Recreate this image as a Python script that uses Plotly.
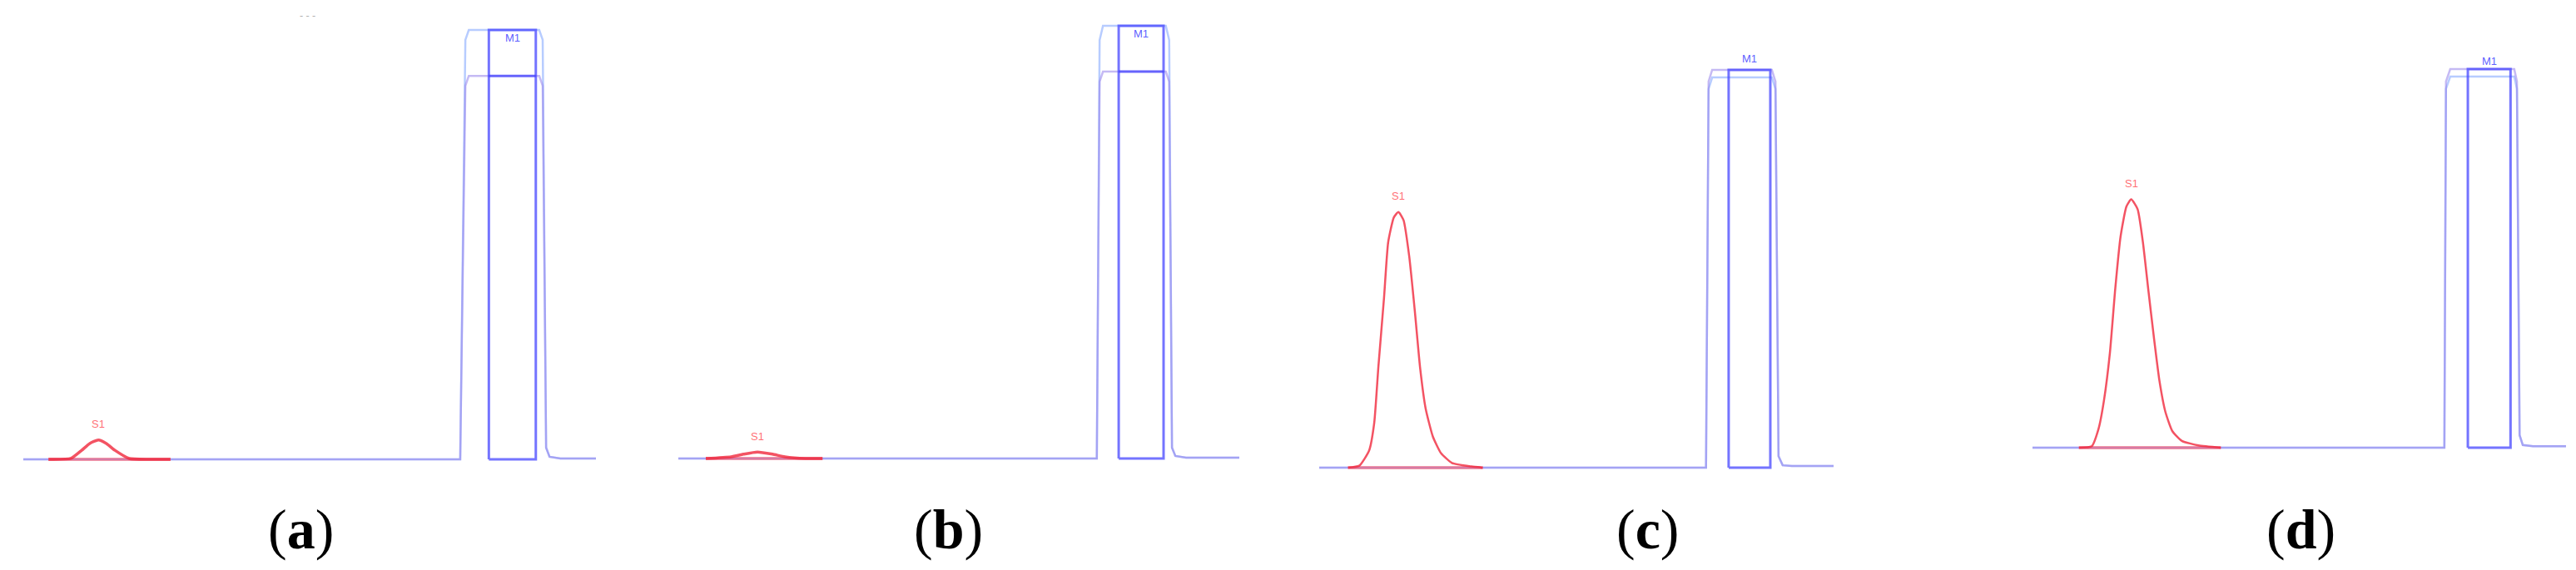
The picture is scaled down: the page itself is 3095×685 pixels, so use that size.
import plotly.graph_objects as go

# ================================================================
# Four chromatograms: retention time (min, 0-10) vs response (% of M1 full scale)
# ================================================================

# --- panel (a) ---
a_trace_t = [0, 7.63, 7.72, 7.78, 9.01, 9.07, 9.13, 9.19, 9.38, 10]
a_blue_v = [0, 0, 97.7, 100, 100, 97.7, 2.7, 0.6, 0.2, 0.2]
a_purple_v = [0, 0, 87.0, 89.3, 89.3, 87.0, 2.7, 0.6, 0.2, 0.2]
a_m1_box = [8.13, 8.95]
a_m1_tops = [100, 89.3]
a_s1_t = [0.44, 0.83, 1.02, 1.16, 1.31, 1.45, 1.60, 1.85, 2.18, 2.57]
a_s1_v = [0, 0.2, 2.1, 3.7, 4.5, 3.7, 2.1, 0.2, 0, 0]

# --- panel (b) ---
b_trace_t = [0, 7.46, 7.51, 7.57, 8.69, 8.75, 8.80, 8.86, 9.05, 10]
b_blue_v = [0, 0, 96.7, 100, 100, 96.7, 2.5, 0.6, 0.2, 0.2]
b_purple_v = [0, 0, 87.1, 89.4, 89.4, 87.1, 2.5, 0.6, 0.2, 0.2]
b_m1_box = [7.85, 8.65]
b_m1_tops = [100, 89.4]
b_s1_t = [0.49, 0.94, 1.16, 1.41, 1.68, 1.90, 2.27, 2.57]
b_s1_v = [0, 0.4, 1.0, 1.5, 1.0, 0.4, 0, 0]

# --- panel (c) ---
c_trace_t = [0, 7.52, 7.57, 7.64, 8.80, 8.87, 8.93, 9.01, 9.19, 10]
c_blue_v = [0, 0, 95.2, 98.1, 98.1, 95.2, 2.9, 0.6, 0.4, 0.4]
c_purple_v = [0, 0, 97.1, 100, 100, 97.1, 2.9, 0.6, 0.4, 0.4]
c_m1_box = [7.96, 8.77]
c_m1_tops = [100]
c_s1_t = [0.56, 0.78, 0.97, 1.07, 1.15, 1.26, 1.34, 1.45, 1.54, 1.64,
          1.75, 1.86, 1.96, 2.07, 2.21, 2.37, 2.58, 2.96, 3.18]
c_s1_v = [0, 0.5, 4.3, 11.3, 25.3, 42.7, 56.6, 62.9, 64.3, 62.2,
          53.1, 39.2, 25.3, 14.8, 7.8, 3.6, 1.2, 0.3, 0]

# --- panel (d) ---
d_trace_t = [0, 7.72, 7.75, 7.83, 9.03, 9.08, 9.13, 9.19, 9.38, 10]
d_blue_v = [0, 0, 94.8, 98.0, 98.0, 94.8, 3.3, 0.7, 0.4, 0.4]
d_purple_v = [0, 0, 96.7, 100, 100, 96.7, 3.3, 0.7, 0.4, 0.4]
d_m1_box = [8.16, 8.96]
d_m1_tops = [100]
d_s1_t = [0.87, 1.11, 1.24, 1.34, 1.45, 1.55, 1.65, 1.76, 1.85, 1.97,
          2.07, 2.17, 2.28, 2.38, 2.49, 2.62, 2.80, 3.11, 3.53]
d_s1_v = [0, 0.4, 5.1, 12.5, 24.9, 41.8, 55.7, 63.7, 65.6, 63.0,
          54.2, 41.8, 28.6, 17.6, 9.5, 4.4, 1.8, 0.6, 0]

panel_letters = ["a", "b", "c", "d"]
peak_labels = ["S1", "M1"]

# ================================================================
# Layout calibration (pixel placement of each sub-chromatogram)
# ================================================================
W, H = 3095, 685
# x of t=0, x of t=10, y of baseline, y of 100 %
PLACE = {
    "a": (20, 708, 544, 28),
    "b": (807, 1481, 543, 23),
    "c": (1577, 2195, 554, 76),
    "d": (2434, 3075, 530, 75),
}
M1_SHIFT = {"a": -9, "b": -10, "c": 13, "d": 10}
S1_WIDTH = {"a": 3.5, "b": 3.5, "c": 2.5, "d": 2.5}
LETTER_X = {"a": 353, "b": 1131, "c": 1972, "d": 2756}
XR = [-0.2, 10.2]
YR = [-3, 104]

data = {
    "a": (a_trace_t, a_blue_v, a_purple_v, a_m1_box, a_m1_tops, a_s1_t, a_s1_v),
    "b": (b_trace_t, b_blue_v, b_purple_v, b_m1_box, b_m1_tops, b_s1_t, b_s1_v),
    "c": (c_trace_t, c_blue_v, c_purple_v, c_m1_box, c_m1_tops, c_s1_t, c_s1_v),
    "d": (d_trace_t, d_blue_v, d_purple_v, d_m1_box, d_m1_tops, d_s1_t, d_s1_v),
}

BLUE = "rgba(135,170,255,0.6)"
PURPLE = "rgba(150,130,235,0.55)"
BOX = "rgba(70,70,255,0.75)"
RED = "rgba(240,40,60,0.8)"
RED_BASE = "rgba(255,90,100,0.55)"

fig = go.Figure()
annotations = []

for i, p in enumerate(panel_letters):
    n = "" if i == 0 else str(i + 1)
    xa, ya = "x" + n, "y" + n
    t, blue_v, purple_v, box, tops, s1_t, s1_v = data[p]

    # M1 integration box
    bx, by = [box[0], box[0], box[1], box[1], box[0]], [0, tops[0], tops[0], 0, 0]
    for top in tops[1:]:
        bx += [None, box[0], box[1]]
        by += [None, top, top]

    fig.add_trace(go.Scatter(x=t, y=blue_v, mode="lines", xaxis=xa, yaxis=ya,
                             line=dict(color=BLUE, width=2.5)))
    fig.add_trace(go.Scatter(x=t, y=purple_v, mode="lines", xaxis=xa, yaxis=ya,
                             line=dict(color=PURPLE, width=2.5)))
    fig.add_trace(go.Scatter(x=bx, y=by, mode="lines", xaxis=xa, yaxis=ya,
                             line=dict(color=BOX, width=3)))
    fig.add_trace(go.Scatter(x=[s1_t[0], s1_t[-1]], y=[0, 0], mode="lines",
                             xaxis=xa, yaxis=ya, line=dict(color=RED_BASE, width=4)))
    fig.add_trace(go.Scatter(x=s1_t, y=s1_v, mode="lines", xaxis=xa, yaxis=ya,
                             line=dict(color=RED, width=S1_WIDTH[p], shape="spline", smoothing=0.5)))

    # axis domains from the pixel calibration
    x0, x1, yb, yt = PLACE[p]
    sx = (x1 - x0) / 10.0
    sy = (yb - yt) / 100.0
    xdom = [(x0 + XR[0] * sx) / W, (x0 + XR[1] * sx) / W]
    ydom = [1 - (yb - YR[0] * sy) / H, 1 - (yb - YR[1] * sy) / H]
    fig.update_layout(**{
        "xaxis" + n: dict(domain=xdom, range=XR, visible=False, anchor=ya),
        "yaxis" + n: dict(domain=ydom, range=YR, visible=False, anchor=xa),
    })

    # peak labels
    k = max(range(len(s1_v)), key=lambda j: s1_v[j])
    annotations.append(dict(x=s1_t[k], y=s1_v[k], xref=xa, yref=ya, text=peak_labels[0],
                            showarrow=False, yshift=19,
                            font=dict(family="Liberation Sans Narrow, Liberation Sans", size=13,
                                      color="rgba(255,60,70,0.75)")))
    annotations.append(dict(x=(box[0] + box[1]) / 2, y=tops[0], xref=xa, yref=ya,
                            text=peak_labels[1], showarrow=False, yshift=M1_SHIFT[p],
                            font=dict(family="Liberation Sans Narrow, Liberation Sans", size=13,
                                      color="rgba(50,50,255,0.8)")))
    # panel letter
    annotations.append(dict(x=LETTER_X[p] / W, y=1 - 628 / H, xref="paper", yref="paper",
                            xanchor="center", yanchor="middle",
                            text="(<b>" + p + "</b>)", showarrow=False,
                            font=dict(family="Liberation Serif", size=68, color="black")))

# faint mark at the top of panel (a)
annotations.append(dict(x=361 / W, y=1 - 10 / H, xref="paper", yref="paper", text="- - -",
                        xanchor="center", yanchor="middle",
                        showarrow=False, font=dict(size=13, color="rgba(140,140,140,0.7)")))

fig.update_layout(
    width=W, height=H,
    margin=dict(l=0, r=0, t=0, b=0),
    paper_bgcolor="white", plot_bgcolor="white",
    showlegend=False,
    annotations=annotations,
)

fig.write_html("out.html")
